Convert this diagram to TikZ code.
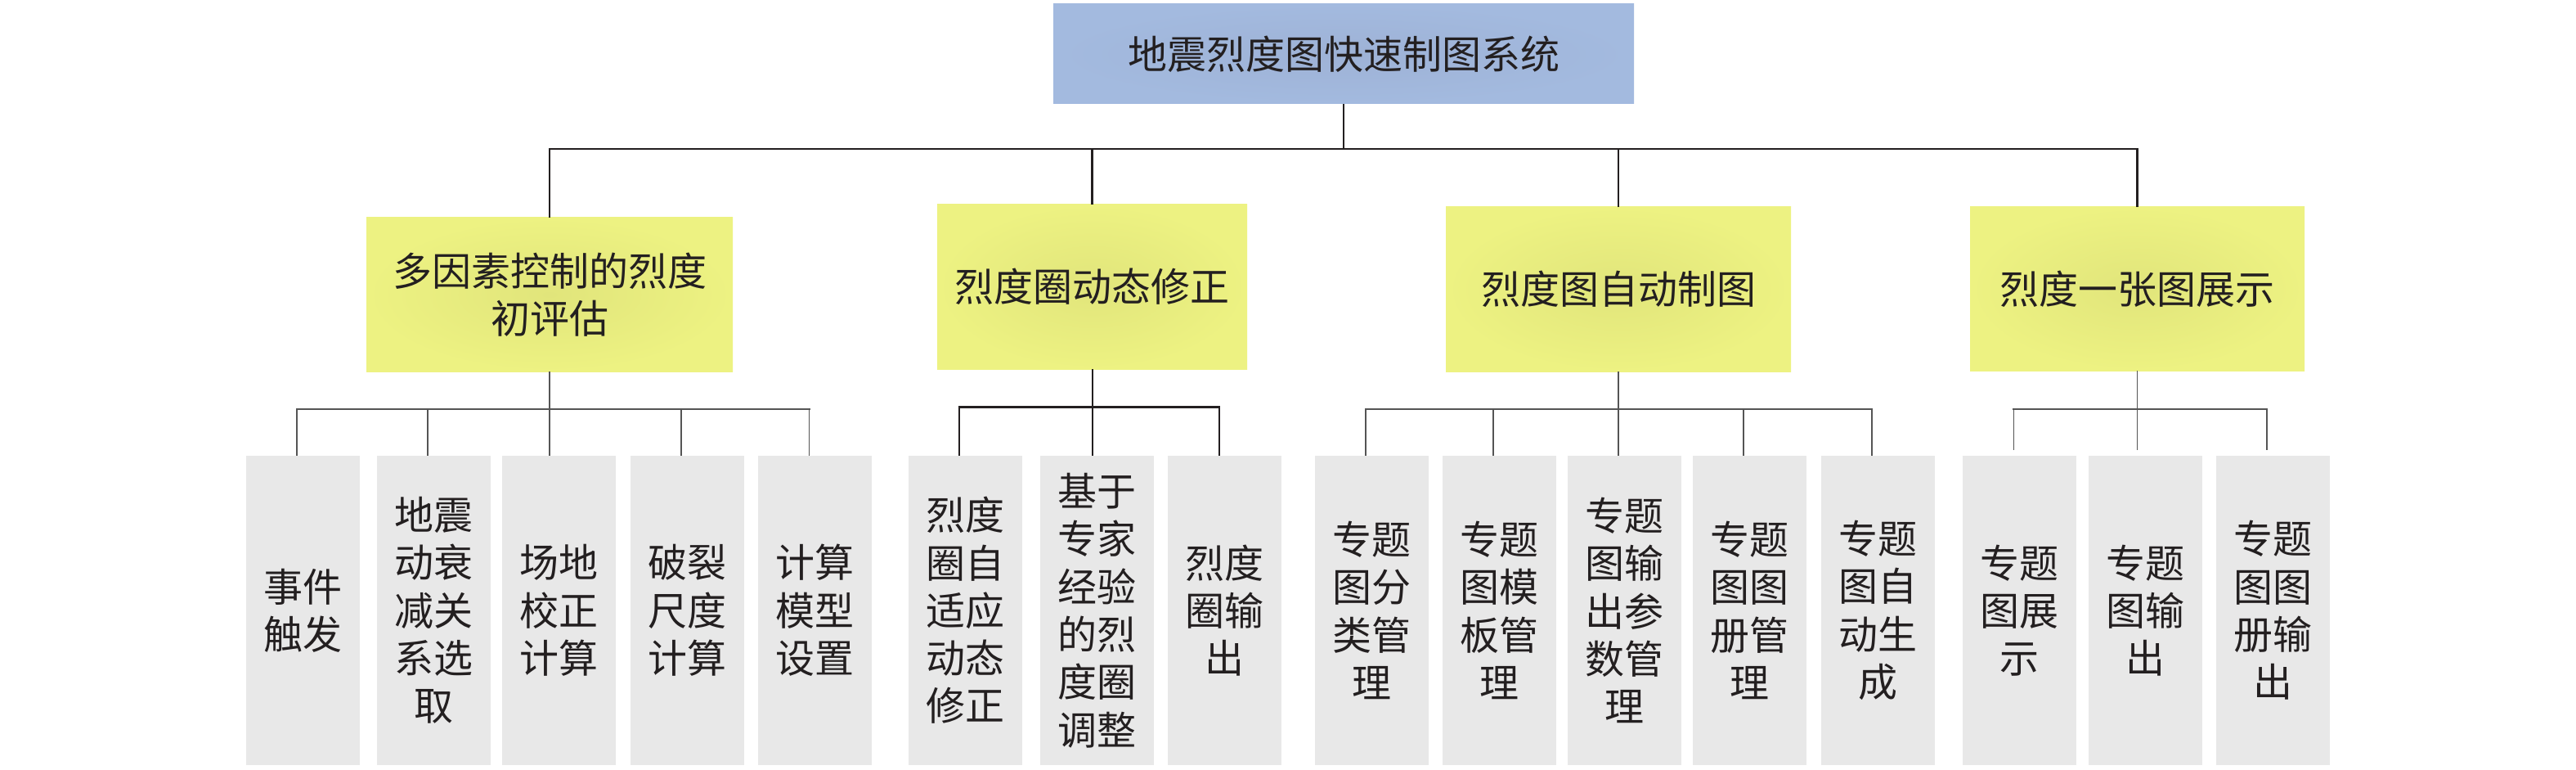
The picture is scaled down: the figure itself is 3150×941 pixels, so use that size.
\documentclass[tikz,border=0pt]{standalone}
\usepackage{fontspec}
\newfontfamily\cjk{Noto Sans CJK SC}
\definecolor{txt}{HTML}{231F20}
\definecolor{blueE}{HTML}{A3BADF}
\definecolor{blueC}{HTML}{9EB2D6}
\definecolor{yelE}{HTML}{EDF282}
\definecolor{yelC}{HTML}{E1E57B}
\definecolor{leafbg}{HTML}{E8E8E8}
\definecolor{lgray}{HTML}{555555}
\tikzset{
  txtstyle/.style={text=txt, font=\cjk\fontsize{48}{58.3}\selectfont, align=center, inner sep=0pt},
  rootbox/.style={txtstyle, rectangle, inner color=blueC, outer color=blueE, minimum width=710, minimum height=122},
  midbox/.style={txtstyle, rectangle, inner color=yelC, outer color=yelE},
  leafbox/.style={txtstyle, rectangle, fill=leafbg, minimum width=139, minimum height=378},
  topbus/.style={draw=txt, line width=2.6pt, line cap=rect},
  topline/.style={draw=txt, line width=2.2pt},
  blkbus/.style={draw=txt, line width=3pt, line cap=rect},
  blkline/.style={draw=txt, line width=2pt},
  grybus/.style={draw=lgray, line width=2.5pt, line cap=rect},
  gryline/.style={draw=lgray, line width=1.9pt}
}
\begin{document}
\begin{tikzpicture}[x=1pt,y=-1pt]
\useasboundingbox[fill=white] (0,0) rectangle (3150,941);
% root
\node[rootbox] (root) at (1643,66) {地震烈度图快速制图系统};
% level 2
\node[midbox, minimum width=448, minimum height=188] (p1) at (672,360) {多因素控制的烈度\\初评估};
\node[midbox, minimum width=379, minimum height=201] (p2) at (1335.5,350.5) {烈度圈动态修正};
\node[midbox, minimum width=422, minimum height=201] (p3) at (1979,353.5) {烈度图自动制图};
\node[midbox, minimum width=409, minimum height=200] (p4) at (2613.5,353) {烈度一张图展示};
% leaves
\node[leafbox] (g1) at (370,746) {事件\\触发};
\node[leafbox] (g2) at (530,746) {地震\\动衰\\减关\\系选\\取};
\node[leafbox] (g3) at (683,746) {场地\\校正\\计算};
\node[leafbox] (g4) at (840,746) {破裂\\尺度\\计算};
\node[leafbox] (g5) at (996.5,746) {计算\\模型\\设置};
\node[leafbox] (g6) at (1180,746) {烈度\\圈自\\适应\\动态\\修正};
\node[leafbox] (g7) at (1341.5,746) {基于\\专家\\经验\\的烈\\度圈\\调整};
\node[leafbox] (g8) at (1497.5,746) {烈度\\圈输\\出};
\node[leafbox] (g9) at (1677,746) {专题\\图分\\类管\\理};
\node[leafbox] (g10) at (1833,746) {专题\\图模\\板管\\理};
\node[leafbox] (g11) at (1986.5,746) {专题\\图输\\出参\\数管\\理};
\node[leafbox] (g12) at (2139,746) {专题\\图图\\册管\\理};
\node[leafbox] (g13) at (2296,746) {专题\\图自\\动生\\成};
\node[leafbox] (g14) at (2469.5,746) {专题\\图展\\示};
\node[leafbox] (g15) at (2623,746) {专题\\图输\\出};
\node[leafbox] (g16) at (2779,746) {专题\\图图\\册输\\出};
% connector anchors
\coordinate (bus0) at (0,182);
\coordinate (bus1) at (0,500);
\coordinate (bus2) at (0,497);
\foreach \i in {1,...,16} { \coordinate (t\i) at ([xshift=-7pt]g\i.north); }
% top level
\draw[topline] (root.south) -- (root.south |- bus0);
\draw[topbus] (p1.north |- bus0) -- (p4.north |- bus0);
\foreach \p in {p1,p2,p3,p4} { \draw[topline] (\p.north |- bus0) -- (\p.north); }
% group 1
\draw[gryline] (p1.south) -- (p1.south |- t3);
\draw[grybus] (t1 |- bus1) -- (t5 |- bus1);
\foreach \i in {1,2,4,5} { \draw[gryline] (t\i |- bus1) -- (t\i); }
% group 2
\draw[blkline] (p2.south) -- (p2.south |- t7);
\draw[blkbus] (t6 |- bus2) -- (t8 |- bus2);
\foreach \i in {6,8} { \draw[blkline] (t\i |- bus2) -- (t\i); }
% group 3
\draw[gryline] (p3.south) -- (p3.south |- t11);
\draw[grybus] (t9 |- bus1) -- (t13 |- bus1);
\foreach \i in {9,10,12,13} { \draw[gryline] (t\i |- bus1) -- (t\i); }
% group 4
\foreach \i in {14,15,16} { \coordinate (e\i) at ([yshift=7pt]t\i); }
\draw[gryline] (p4.south) -- (p4.south |- e15);
\draw[grybus] (t14 |- bus1) -- (t16 |- bus1);
\foreach \i in {14,16} { \draw[gryline] (t\i |- bus1) -- (e\i); }
\end{tikzpicture}
\end{document}
